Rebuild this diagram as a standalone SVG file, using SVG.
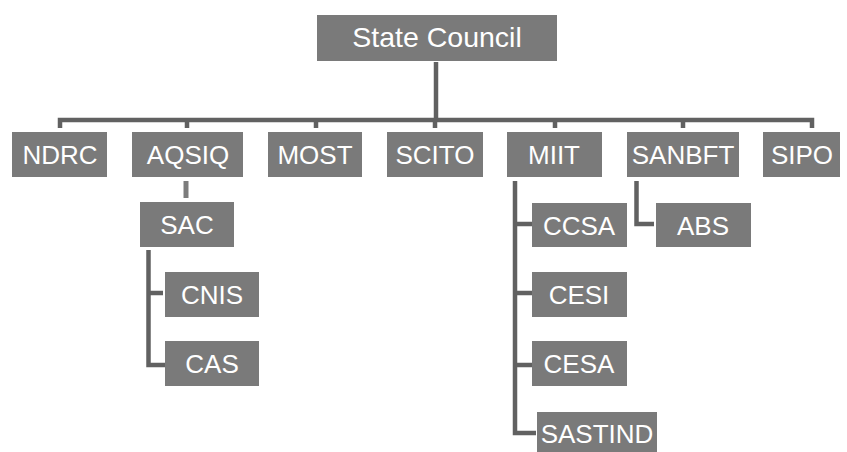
<svg xmlns="http://www.w3.org/2000/svg" width="847" height="452" viewBox="0 0 847 452">
<style>
.box{fill:#7a7a7a}
.lbl{font-family:"Liberation Sans",Arial,sans-serif;font-size:26px;fill:#ffffff;text-anchor:middle}
.ln{fill:none;stroke:#616161;stroke-width:4.5;stroke-linejoin:miter}
.ln2{fill:none;stroke:#7c7c7c;stroke-width:5}
</style>
<rect width="847" height="452" fill="#ffffff"/>
<g id="connectors">
<path class="ln" d="M436,62 V120" stroke-width="6"/>
<path class="ln" d="M60,128 V120 H812 V128"/>
<path class="ln" d="M187,120 V128 M316,120 V128 M435,120 V128 M555,120 V128 M683,120 V128"/>
<path class="ln2" d="M186,181 V198"/>
<path class="ln" d="M148.5,250 V365 H165 M148.5,293 H163" stroke="#6e6e6e" stroke-width="5"/>
<path class="ln" d="M515,181 V433 H536 M515,224 H532 M515,293 H532 M515,365 H532" stroke="#727272" stroke-width="4"/>
<path class="ln" d="M636.5,181 V224 H654" stroke="#727272" stroke-width="4"/>
</g>
<g id="state-council"><rect class="box" x="317" y="15" width="240" height="46"/><text class="lbl" x="437" y="47" style="font-size:28.5px">State Council</text></g>
<g id="ndrc"><rect class="box" x="12" y="132" width="95" height="45"/><text class="lbl" x="60" y="164">NDRC</text></g>
<g id="aqsiq"><rect class="box" x="132" y="132" width="111" height="45"/><text class="lbl" x="188" y="164">AQSIQ</text></g>
<g id="most"><rect class="box" x="268" y="132" width="94" height="45"/><text class="lbl" x="315" y="164">MOST</text></g>
<g id="scito"><rect class="box" x="387" y="132" width="96" height="45"/><text class="lbl" x="435" y="164">SCITO</text></g>
<g id="miit"><rect class="box" x="507" y="132" width="95" height="45"/><text class="lbl" x="554" y="164">MIIT</text></g>
<g id="sanbft"><rect class="box" x="627" y="132" width="112" height="45"/><text class="lbl" x="683" y="164">SANBFT</text></g>
<g id="sipo"><rect class="box" x="763" y="132" width="77" height="45"/><text class="lbl" x="802" y="164">SIPO</text></g>
<g id="sac"><rect class="box" x="140" y="202" width="94" height="45"/><text class="lbl" x="187" y="234">SAC</text></g>
<g id="cnis"><rect class="box" x="165" y="272" width="94" height="45"/><text class="lbl" x="212" y="304">CNIS</text></g>
<g id="cas"><rect class="box" x="165" y="341" width="94" height="45"/><text class="lbl" x="212" y="373">CAS</text></g>
<g id="ccsa"><rect class="box" x="532" y="203" width="95" height="44"/><text class="lbl" x="579" y="235">CCSA</text></g>
<g id="cesi"><rect class="box" x="532" y="272" width="95" height="45"/><text class="lbl" x="579" y="304">CESI</text></g>
<g id="cesa"><rect class="box" x="532" y="341" width="95" height="45"/><text class="lbl" x="579" y="373">CESA</text></g>
<g id="sastind"><rect class="box" x="537" y="412" width="120" height="40"/><text class="lbl" x="597" y="443">SASTIND</text></g>
<g id="abs"><rect class="box" x="656" y="203" width="95" height="44"/><text class="lbl" x="703" y="235">ABS</text></g>
</svg>
